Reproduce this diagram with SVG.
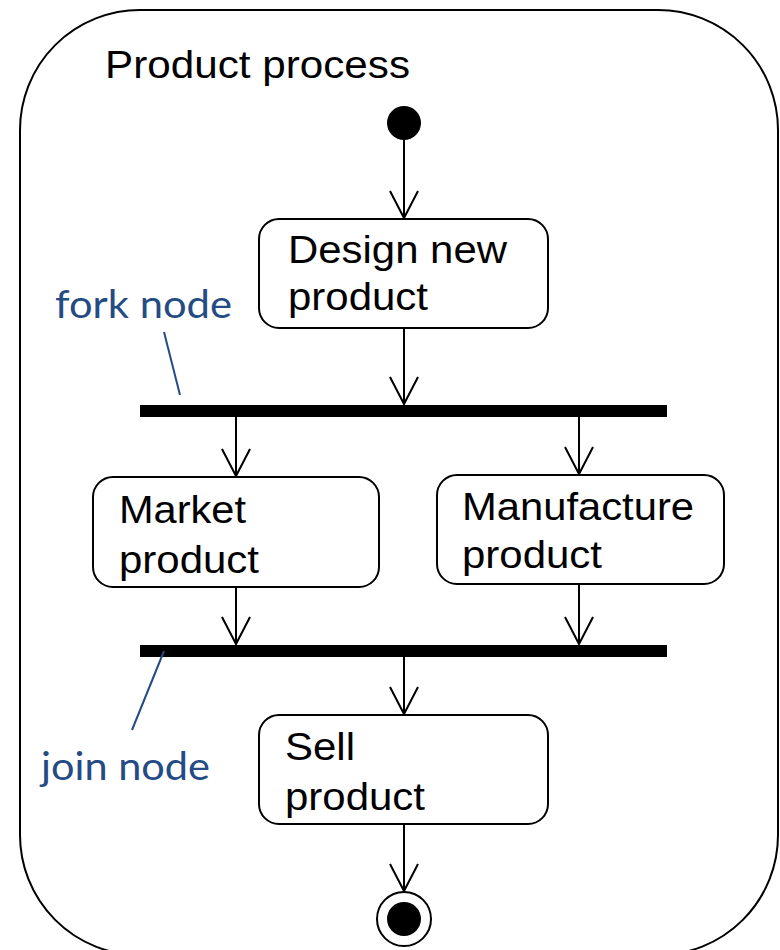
<svg xmlns="http://www.w3.org/2000/svg" width="780" height="950" viewBox="0 0 780 950">
<style>
.frame{fill:none;stroke:#000;stroke-width:2}
.act{fill:#fff;stroke:#000;stroke-width:2}
.t{font-family:"Liberation Sans",Arial,sans-serif;font-size:38px;fill:#000}
.note{font-family:Lato,"Open Sans",sans-serif;font-size:39px;fill:#244B84}
.lead{stroke:#244B84;stroke-width:2;fill:none}
.edge{stroke:#000;stroke-width:2;fill:none;marker-end:url(#arr)}
.bar{fill:#000}
</style>
<defs>
<marker id="arr" markerUnits="userSpaceOnUse" markerWidth="32" markerHeight="32" viewBox="0 0 32 32" refX="29" refY="15" orient="auto">
<path d="M2,1 L29,15 L2,29" fill="none" stroke="#000" stroke-width="2"/>
</marker>
</defs>
<rect width="780" height="950" fill="#fff"/>
<g id="frame">
<rect class="frame" x="20" y="10" width="758" height="945" rx="120" ry="120"/>
<text class="t" x="105" y="78" textLength="305" lengthAdjust="spacingAndGlyphs">Product process</text>
</g>
<g id="start"><circle cx="404" cy="123" r="17" fill="#000"/></g>
<g id="design">
<rect class="act" x="259" y="219" width="289" height="109" rx="20"/>
<text class="t" x="288" y="263" textLength="219" lengthAdjust="spacingAndGlyphs">Design new</text>
<text class="t" x="288" y="310" textLength="140" lengthAdjust="spacingAndGlyphs">product</text>
</g>
<g id="fork"><rect class="bar" x="140" y="405" width="527" height="12"/></g>
<g id="market">
<rect class="act" x="93" y="477" width="286" height="110" rx="20"/>
<text class="t" x="119" y="523" textLength="127" lengthAdjust="spacingAndGlyphs">Market</text>
<text class="t" x="119" y="573" textLength="140" lengthAdjust="spacingAndGlyphs">product</text>
</g>
<g id="manufacture">
<rect class="act" x="437" y="475" width="287" height="109" rx="20"/>
<text class="t" x="462" y="520" textLength="232" lengthAdjust="spacingAndGlyphs">Manufacture</text>
<text class="t" x="462" y="568" textLength="140" lengthAdjust="spacingAndGlyphs">product</text>
</g>
<g id="join"><rect class="bar" x="140" y="645" width="527" height="12"/></g>
<g id="sell">
<rect class="act" x="259" y="715" width="289" height="109" rx="20"/>
<text class="t" x="285" y="760" textLength="70" lengthAdjust="spacingAndGlyphs">Sell</text>
<text class="t" x="285" y="810" textLength="140" lengthAdjust="spacingAndGlyphs">product</text>
</g>
<g id="end">
<circle cx="404" cy="919" r="27" fill="#fff" stroke="#000" stroke-width="2"/>
<circle cx="404" cy="919" r="17" fill="#000"/>
</g>
<g id="fork-label">
<text class="note" x="55" y="318" textLength="177" lengthAdjust="spacingAndGlyphs">fork node</text>
<line class="lead" x1="164" y1="332" x2="180" y2="395"/>
</g>
<g id="join-label">
<text class="note" x="41" y="780" textLength="169" lengthAdjust="spacingAndGlyphs">join node</text>
<line class="lead" x1="164" y1="651" x2="132" y2="730"/>
</g>
<g id="connectors">
<line class="edge" x1="404" y1="139" x2="404" y2="218"/>
<line class="edge" x1="404" y1="328" x2="404" y2="404"/>
<line class="edge" x1="236" y1="417" x2="236" y2="476"/>
<line class="edge" x1="579" y1="417" x2="579" y2="474"/>
<line class="edge" x1="236" y1="587" x2="236" y2="644"/>
<line class="edge" x1="579" y1="584" x2="579" y2="644"/>
<line class="edge" x1="404" y1="657" x2="404" y2="714"/>
<line class="edge" x1="404" y1="824" x2="404" y2="891"/>
</g>
</svg>
